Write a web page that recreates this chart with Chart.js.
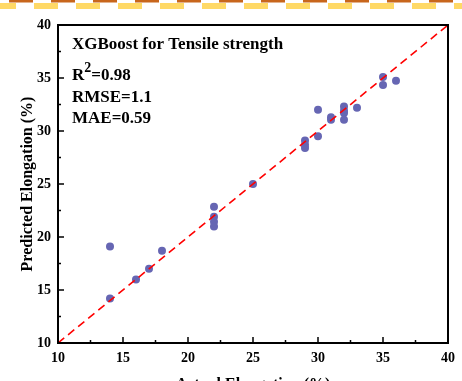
<!DOCTYPE html>
<html>
<head>
<meta charset="utf-8">
<script src="https://cdn.jsdelivr.net/npm/chart.js@4"></script>
<style>
  html, body { margin: 0; padding: 0; background: #fff; overflow: hidden; }
  #wrap { width: 462px; height: 395px; }
</style>
</head>
<body>
<div id="wrap"><canvas id="chart" width="462" height="395"></canvas></div>
<script>
// actual vs predicted elongation (%)
const actual = [14, 14, 16, 17, 18, 22, 22, 22, 22, 25, 29, 29, 29, 30, 30, 31, 31, 32, 32, 32, 32, 33, 35, 35, 36];
const predicted = [19.1, 14.2, 16.0, 17.0, 18.7, 22.85, 21.9, 21.45, 21.0, 25.0, 29.1, 28.7, 28.4, 32.0, 29.5, 31.3, 31.05, 32.3, 31.9, 31.7, 31.05, 32.2, 35.1, 34.35, 34.75];
const refLine = [10, 40];
const tickValues = [10, 15, 20, 25, 30, 35, 40];
const minorTicks = [12.5, 17.5, 22.5, 27.5, 32.5, 37.5];
const notes = ["XGBoost for Tensile strength", "R", "RMSE=1.1", "MAE=0.59"];

const serif = "'Liberation Serif', 'Times New Roman', serif";

const points = actual.map((a, i) => ({ x: a, y: predicted[i] }));
const diag = refLine.map(v => ({ x: v, y: v }));

const decor = {
  id: "decor",
  beforeDraw(chart) {
    const ctx = chart.ctx;
    ctx.save();
    ctx.fillStyle = "#c8661c";
    for (let x = 9; x < 470; x += 42) ctx.fillRect(x, 0, 24, 2.5);
    ctx.fillStyle = "#ffd966";
    for (let x = -8; x < 470; x += 42) ctx.fillRect(x, 3, 24, 6);
    ctx.restore();
  },
  afterDraw(chart) {
    const ctx = chart.ctx;
    const a = chart.chartArea;
    const xs = chart.scales.x, ys = chart.scales.y;
    ctx.save();
    ctx.strokeStyle = "#000";
    ctx.lineWidth = 1.5;
    // inward ticks
    ctx.beginPath();
    tickValues.forEach(v => {
      const px = xs.getPixelForValue(v);
      ctx.moveTo(px, a.bottom); ctx.lineTo(px, a.bottom - 6);
      const py = ys.getPixelForValue(v);
      ctx.moveTo(a.left, py); ctx.lineTo(a.left + 6, py);
    });
    minorTicks.forEach(v => {
      const px = xs.getPixelForValue(v);
      ctx.moveTo(px, a.bottom); ctx.lineTo(px, a.bottom - 3);
      const py = ys.getPixelForValue(v);
      ctx.moveTo(a.left, py); ctx.lineTo(a.left + 3, py);
    });
    ctx.stroke();
    ctx.lineWidth = 2;
    ctx.strokeRect(a.left, a.top, a.right - a.left, a.bottom - a.top);

    // annotation text
    ctx.fillStyle = "#000";
    ctx.font = "bold 17px " + serif;
    const tx = a.left + 14;
    ctx.fillText(notes[0], tx, a.top + 24);
    ctx.fillText(notes[1], tx, a.top + 55);
    const rw = ctx.measureText(notes[1]).width;
    ctx.font = "bold 14px " + serif;
    ctx.fillText("2", tx + rw, a.top + 47);
    const sw = ctx.measureText("2").width;
    ctx.font = "bold 17px " + serif;
    ctx.fillText("=0.98", tx + rw + sw, a.top + 55);
    ctx.fillText(notes[2], tx, a.top + 77);
    ctx.fillText(notes[3], tx, a.top + 98);
    ctx.restore();
  }
};

new Chart(document.getElementById("chart"), {
  type: "scatter",
  data: {
    datasets: [
      {
        type: "line",
        data: diag,
        borderColor: "#ff0000",
        borderWidth: 1.6,
        borderDash: [8, 5],
        pointRadius: 0,
        fill: false
      },
      {
        data: points,
        backgroundColor: "#6666b3",
        borderColor: "#6666b3",
        pointRadius: 4,
        borderWidth: 0
      }
    ]
  },
  options: {
    responsive: false,
    animation: false,
    layout: { padding: { left: 8, top: 25, right: 12, bottom: 0 } },
    plugins: { legend: { display: false }, tooltip: { enabled: false } },
    scales: {
      x: {
        type: "linear",
        min: 10, max: 40,
        afterBuildTicks: s => { s.ticks = tickValues.map(v => ({ value: v })); },
        afterFit: s => { s.height = 52; },
        grid: { display: false, drawTicks: false },
        border: { display: false },
        ticks: { padding: 7, color: "#000", font: { family: serif, size: 14, weight: "bold" } },
        title: {
          display: true,
          text: "Actual Elongation (%)",
          color: "#000",
          font: { family: serif, size: 16, weight: "bold" },
          padding: { top: 0, bottom: 1 }
        }
      },
      y: {
        type: "linear",
        min: 10, max: 40,
        afterBuildTicks: s => { s.ticks = tickValues.map(v => ({ value: v })); },
        afterFit: s => { s.width = 50; },
        grid: { display: false, drawTicks: false },
        border: { display: false },
        ticks: { padding: 7, color: "#000", font: { family: serif, size: 14, weight: "bold" } },
        title: {
          display: true,
          text: "Predicted Elongation (%)",
          color: "#000",
          font: { family: serif, size: 16, weight: "bold" },
          padding: { top: 10, bottom: 0 }
        }
      }
    }
  },
  plugins: [decor]
});
</script>
</body>
</html>
